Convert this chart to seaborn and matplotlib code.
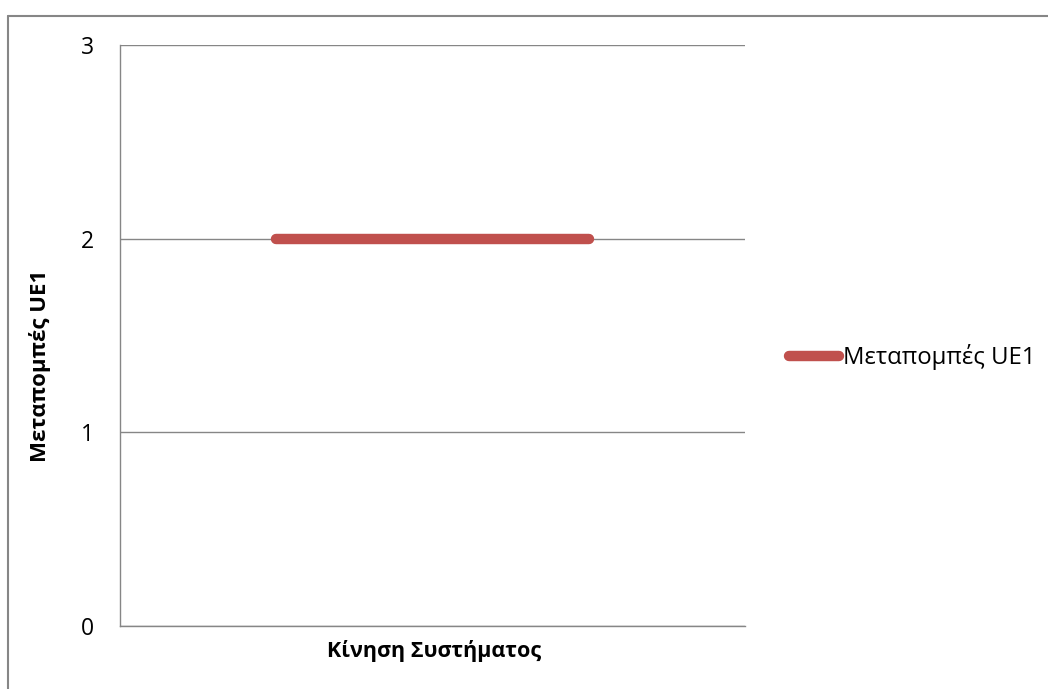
import matplotlib
matplotlib.use("Agg")
import matplotlib.pyplot as plt
from matplotlib.lines import Line2D
import seaborn as sns
import pandas as pd

# Handover counts per system movement step
steps = [0, 1]
handovers_ue1 = [2, 2]
series_name = "Μεταπομπές UE1"
x_title = "Κίνηση Συστήματος"
y_ticks = [0, 1, 2, 3]

sns.set_theme(style="white")
plt.rcParams["font.family"] = ["Open Sans", "DejaVu Sans"]
plt.rcParams["text.color"] = "black"

df = pd.DataFrame({"step": steps, "value": handovers_ue1})

W, H = 1048, 689
fig = plt.figure(figsize=(W / 100, H / 100), dpi=100)
ax = fig.add_axes([120 / W, 1 - 626 / H, (745 - 120) / W, (626 - 45) / H])

grid_col = "#868686"
line_col = "#C0504D"

sns.lineplot(data=df, x="step", y="value", ax=ax, color=line_col,
             linewidth=7.5, solid_capstyle="round", legend=False)

ax.set_xlim(-0.5, 1.5)
ax.set_ylim(0, 3)
ax.set_yticks(y_ticks)
ax.set_yticklabels([str(t) for t in y_ticks], fontsize=16.5, color="black")
ax.set_xticks([])
ax.tick_params(axis="y", length=0, pad=19)
ax.yaxis.grid(True, color=grid_col, linewidth=1.0)
ax.set_axisbelow(True)
for side in ["top", "right"]:
    ax.spines[side].set_visible(False)
for side in ["left", "bottom"]:
    ax.spines[side].set_color(grid_col)
    ax.spines[side].set_linewidth(1.0)
ax.set_xlabel("")
ax.set_ylabel("")

# Axis titles
fig.text(434 / W, 1 - 651 / H, x_title, fontsize=15.5, fontweight="bold",
         ha="center", va="center", color="black")
fig.text(40 / W, 1 - 366 / H, series_name, fontsize=16, fontweight="bold",
         ha="center", va="center", rotation=90, color="black")

handle = Line2D([], [], color=line_col, linewidth=7.5, solid_capstyle="round")
fig.legend([handle], [series_name], loc="center left",
           bbox_to_anchor=(789 / W, 1 - 357 / H), frameon=False,
           fontsize=17.2, handlelength=2.1, handletextpad=0.15,
           borderaxespad=0, borderpad=0, labelcolor="black")

# Chart-area border (left and top edges)
fig.add_artist(Line2D([8 / W, 8 / W], [0, 1 - 16 / H], transform=fig.transFigure,
                      color=grid_col, linewidth=1.5))
fig.add_artist(Line2D([8 / W, 1], [1 - 16 / H, 1 - 16 / H], transform=fig.transFigure,
                      color=grid_col, linewidth=1.5))

fig.savefig("out.png", dpi=100, facecolor="white")
